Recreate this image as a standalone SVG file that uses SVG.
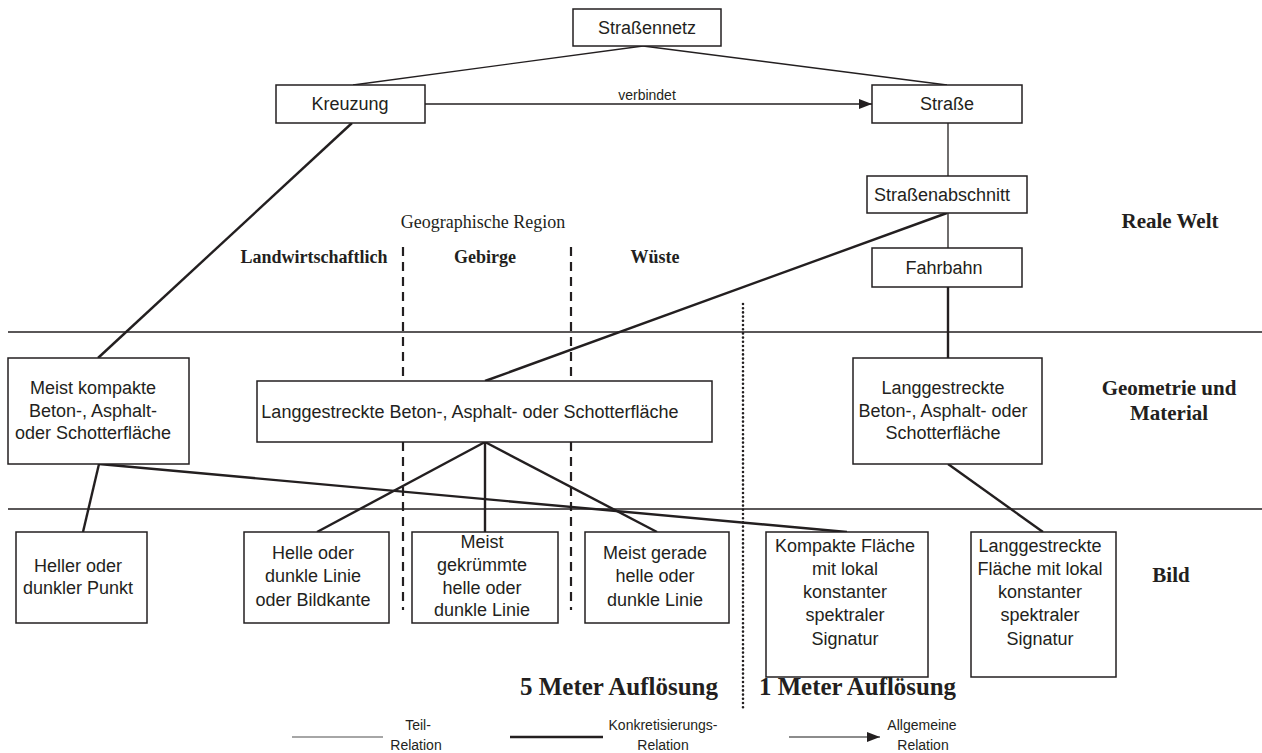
<svg xmlns="http://www.w3.org/2000/svg" width="1262" height="753" viewBox="0 0 1262 753">
<defs>
<style>
.box{fill:#fff;stroke:#231f20;stroke-width:1.5}
.t{font-family:"Liberation Sans",Arial,sans-serif;font-size:18px;fill:#231f20;text-anchor:middle}
.s{font-family:"Liberation Sans",Arial,sans-serif;font-size:14px;fill:#231f20;text-anchor:middle}
.b{font-family:"Liberation Serif","Times New Roman",serif;font-weight:bold;font-size:21px;fill:#231f20;text-anchor:middle}
.r{font-family:"Liberation Serif","Times New Roman",serif;font-size:18px;fill:#231f20;text-anchor:middle}
.rb{font-family:"Liberation Serif","Times New Roman",serif;font-weight:bold;font-size:18px;fill:#231f20;text-anchor:middle}
.big{font-family:"Liberation Serif","Times New Roman",serif;font-weight:bold;font-size:25px;fill:#231f20}
.thin{stroke:#231f20;stroke-width:1.3;fill:none}
.thick{stroke:#231f20;stroke-width:2.4;fill:none}
.sep{stroke:#231f20;stroke-width:1.5;fill:none}
.dash{stroke:#231f20;stroke-width:2.2;stroke-dasharray:9 6;fill:none}
.dot{stroke:#231f20;stroke-width:2.6;stroke-dasharray:0 4.2;stroke-linecap:round;fill:none}
</style>
<marker id="arr" viewBox="0 0 13 10" refX="13" refY="5" markerWidth="13" markerHeight="10" markerUnits="userSpaceOnUse" orient="auto">
<path d="M0,0 L13,5 L0,10 z" fill="#231f20"/>
</marker>
</defs>
<rect width="1262" height="753" fill="#fff"/>

<g id="layout">
<line class="sep" x1="8" y1="332" x2="1262" y2="332"/>
<line class="sep" x1="8" y1="509" x2="1262" y2="509"/>
<line class="dash" x1="403" y1="247" x2="403" y2="610"/>
<line class="dash" x1="571" y1="247" x2="571" y2="610"/>
<line class="dot" x1="743" y1="304" x2="743" y2="708"/>
<text class="r" x="483" y="228">Geographische Region</text>
<text class="rb" x="314" y="263">Landwirtschaftlich</text>
<text class="rb" x="485" y="263">Gebirge</text>
<text class="rb" x="655" y="263">Wüste</text>
<text class="b" x="1170" y="228">Reale Welt</text>
<text class="b" x="1169" y="395">Geometrie und</text>
<text class="b" x="1169" y="420">Material</text>
<text class="b" x="1171" y="582">Bild</text>
<text class="big" x="520" y="695" textLength="198" lengthAdjust="spacingAndGlyphs">5 Meter Auflösung</text>
<text class="big" x="759" y="695" textLength="197" lengthAdjust="spacingAndGlyphs">1 Meter Auflösung</text>
</g>

<g id="connectors">
<line class="thin" x1="643" y1="46" x2="353" y2="85"/>
<line class="thin" x1="643" y1="46" x2="947" y2="85"/>
<line class="thin" x1="425" y1="104" x2="872" y2="104" marker-end="url(#arr)"/>
<text class="s" x="647" y="100">verbindet</text>
<line class="thin" x1="948" y1="123" x2="948" y2="176"/>
<line class="thin" x1="948" y1="213" x2="948" y2="248"/>
<line class="thick" x1="948" y1="287" x2="948" y2="358"/>
<line class="thick" x1="352" y1="123" x2="98" y2="358"/>
<line class="thick" x1="947" y1="213" x2="485" y2="381"/>
<line class="thick" x1="99" y1="464" x2="83" y2="532"/>
<line class="thick" x1="99" y1="464" x2="847" y2="532"/>
<line class="thick" x1="485" y1="442" x2="317" y2="532"/>
<line class="thick" x1="485" y1="442" x2="485" y2="532"/>
<line class="thick" x1="485" y1="442" x2="657" y2="532"/>
<line class="thick" x1="948" y1="464" x2="1043" y2="532"/>
</g>

<g id="n-strassennetz"><rect class="box" x="573" y="9" width="148" height="37"/><text class="t" x="647" y="34">Straßennetz</text></g>
<g id="n-kreuzung"><rect class="box" x="276" y="85" width="149" height="38"/><text class="t" x="350" y="110">Kreuzung</text></g>
<g id="n-strasse"><rect class="box" x="872" y="85" width="150" height="38"/><text class="t" x="947" y="110">Straße</text></g>
<g id="n-abschnitt"><rect class="box" x="867" y="176" width="160" height="37"/><text class="t" x="942" y="201">Straßenabschnitt</text></g>
<g id="n-fahrbahn"><rect class="box" x="872" y="248" width="150" height="39"/><text class="t" x="944" y="274">Fahrbahn</text></g>

<g id="n-geo-kompakt"><rect class="box" x="8" y="358" width="181" height="106"/>
<text class="t" x="93" y="394">Meist kompakte</text><text class="t" x="93" y="417">Beton-, Asphalt-</text><text class="t" x="93" y="439">oder Schotterfläche</text></g>
<g id="n-geo-lang-mid"><rect class="box" x="257" y="381" width="455" height="61"/>
<text class="t" x="470" y="418">Langgestreckte Beton-, Asphalt- oder Schotterfläche</text></g>
<g id="n-geo-lang-right"><rect class="box" x="853" y="358" width="189" height="106"/>
<text class="t" x="943" y="394">Langgestreckte</text><text class="t" x="943" y="417">Beton-, Asphalt- oder</text><text class="t" x="943" y="439">Schotterfläche</text></g>

<g id="n-punkt"><rect class="box" x="16" y="532" width="131" height="91"/>
<text class="t" x="78" y="572">Heller oder</text><text class="t" x="78" y="594">dunkler Punkt</text></g>
<g id="n-linie"><rect class="box" x="244" y="532" width="145" height="91"/>
<text class="t" x="313" y="559">Helle oder</text><text class="t" x="313" y="582">dunkle Linie</text><text class="t" x="313" y="606">oder Bildkante</text></g>
<g id="n-gekruemmt"><rect class="box" x="412" y="532" width="146" height="91"/>
<text class="t" x="482" y="548">Meist</text><text class="t" x="482" y="571">gekrümmte</text><text class="t" x="482" y="594">helle oder</text><text class="t" x="482" y="616">dunkle Linie</text></g>
<g id="n-gerade"><rect class="box" x="585" y="532" width="144" height="91"/>
<text class="t" x="655" y="559">Meist gerade</text><text class="t" x="655" y="582">helle oder</text><text class="t" x="655" y="606">dunkle Linie</text></g>
<g id="n-kompakt-flaeche"><rect class="box" x="766" y="532" width="162" height="145"/>
<text class="t" x="845" y="552">Kompakte Fläche</text><text class="t" x="845" y="575">mit lokal</text><text class="t" x="845" y="598">konstanter</text><text class="t" x="845" y="621">spektraler</text><text class="t" x="845" y="645">Signatur</text></g>
<g id="n-lang-flaeche"><rect class="box" x="971" y="532" width="145" height="145"/>
<text class="t" x="1040" y="552">Langgestreckte</text><text class="t" x="1040" y="575">Fläche mit lokal</text><text class="t" x="1040" y="598">konstanter</text><text class="t" x="1040" y="621">spektraler</text><text class="t" x="1040" y="645">Signatur</text></g>

<g id="legend">
<line x1="292" y1="737" x2="383" y2="737" stroke="#888" stroke-width="1.5"/>
<text class="s" x="418" y="730">Teil-</text><text class="s" x="416" y="750">Relation</text>
<line x1="510" y1="737" x2="603" y2="737" stroke="#231f20" stroke-width="2.6"/>
<text class="s" x="663" y="730">Konkretisierungs-</text><text class="s" x="663" y="750">Relation</text>
<line x1="789" y1="737" x2="880" y2="737" stroke="#666" stroke-width="1.5" marker-end="url(#arr)"/>
<text class="s" x="922" y="730">Allgemeine</text><text class="s" x="923" y="750">Relation</text>
</g>
</svg>
